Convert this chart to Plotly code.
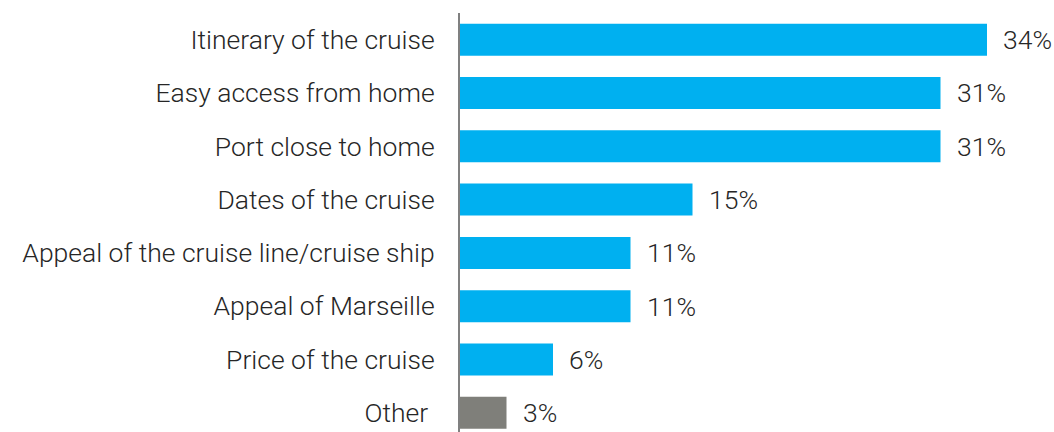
import plotly.graph_objects as go

categories = [
    "Itinerary of the cruise",
    "Easy access from home",
    "Port close to home",
    "Dates of the cruise",
    "Appeal of the cruise line/cruise ship",
    "Appeal of Marseille",
    "Price of the cruise",
    "Other",
]
tick_labels = categories[:-1] + ["Other\u00a0"]
values = [34, 31, 31, 15, 11, 11, 6, 3]
bar_colors = ["#00B0F0"] * 7 + ["#7F7F7A"]
value_labels = [f"{v}%" for v in values]

FONT = dict(family="Roboto", size=26.5, color="#262626", weight=300)

fig = go.Figure(
    go.Bar(
        x=values,
        y=categories,
        orientation="h",
        marker=dict(color=bar_colors, line=dict(width=0)),
        width=0.6,
        hoverinfo="skip",
    )
)

for cat, v, lab in zip(categories, values, value_labels):
    fig.add_annotation(
        x=v, y=cat, text=lab, showarrow=False,
        xanchor="left", yanchor="middle", xshift=14,
        font=FONT,
    )

fig.update_layout(
    width=1054, height=432,
    margin=dict(l=460, r=0, t=13, b=0),
    paper_bgcolor="white", plot_bgcolor="white",
    showlegend=False,
    font=FONT,
    xaxis=dict(range=[0, 594 / 15.5], visible=False, fixedrange=True),
    yaxis=dict(
        categoryorder="array", categoryarray=categories,
        tickmode="array", tickvals=categories, ticktext=tick_labels,
        range=[7.36, -0.5],
        showline=True, linecolor="#808080", linewidth=2,
        showgrid=False, zeroline=False,
        ticks="", ticklabelstandoff=18,
        tickfont=FONT, fixedrange=True,
    ),
)

fig.write_html("out.html")
